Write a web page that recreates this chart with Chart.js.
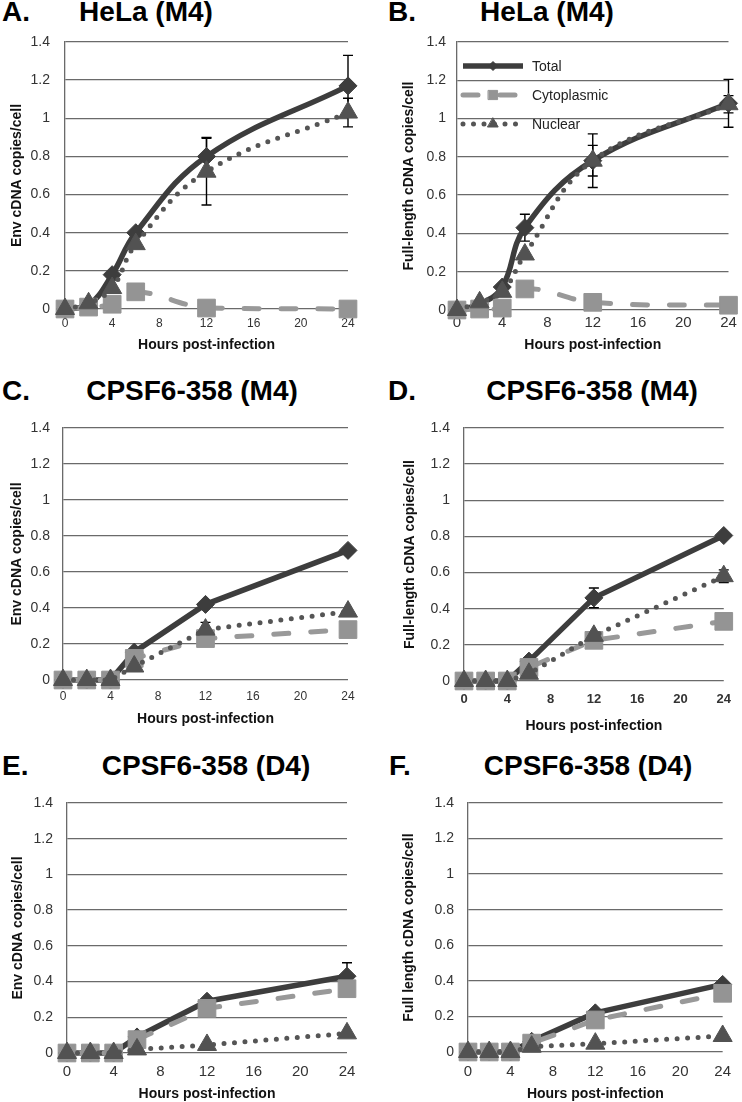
<!DOCTYPE html>
<html><head><meta charset="utf-8">
<script src="https://cdn.jsdelivr.net/npm/chart.js@4.4.0/dist/chart.umd.min.js"></script>
<style>
html,body{margin:0;padding:0;background:#fff;}
#page{position:relative;width:742px;height:1102px;overflow:hidden;background:#fff;font-family:"Liberation Sans",Arial,sans-serif;}
canvas.cv{position:absolute;}
.ttl{position:absolute;font-weight:bold;font-size:28px;line-height:28px;color:#000;white-space:nowrap;}
.ctr{text-align:center;width:320px;}
</style></head><body><div id="page"></div>
<script>
// ---------- data ----------
const hours = [0, 2, 4, 6, 12, 24];
const xTickValues = [0, 4, 8, 12, 16, 20, 24];
const yTickValues = [0, 0.2, 0.4, 0.6, 0.8, 1, 1.2, 1.4];
const seriesNames = ['Total', 'Cytoplasmic', 'Nuclear'];
const panelLetters = ['A.', 'B.', 'C.', 'D.', 'E.', 'F.'];
const panelTitles = ['HeLa (M4)', 'HeLa (M4)', 'CPSF6-358 (M4)', 'CPSF6-358 (M4)', 'CPSF6-358 (D4)', 'CPSF6-358 (D4)'];
const yAxisTitles = ['Env cDNA copies/cell', 'Full-length cDNA copies/cell', 'Env cDNA copies/cell',
                     'Full-length cDNA copies/cell', 'Env cDNA copies/cell', 'Full length cDNA copies/cell'];
const xAxisTitle = 'Hours post-infection';

// Panel A
const totalA = [0, 0.02, 0.18, 0.40, 0.80, 1.17];
const cytoA  = [0, 0.01, 0.025, 0.09, 0.005, 0];
const nucA   = [0, 0.03, 0.11, 0.34, 0.72, 1.03];
const totalErrA = [0, 0, 0, 0, 0.10, 0.16];
const nucErrA   = [0, 0, 0, 0, 0.175, 0.075];
// Panel B
const totalB = [0, 0.03, 0.12, 0.43, 0.78, 1.08];
const cytoB  = [0, 0.005, 0.01, 0.11, 0.04, 0.025];
const nucB   = [0, 0.04, 0.095, 0.29, 0.78, 1.075];
const totalErrB = [0, 0, 0, 0.07, 0.14, 0.125];
const nucErrB   = [0, 0, 0, 0, 0.08, 0.045];
// Panel C
const totalC = [0, 0, 0, 0.155, 0.42, 0.72];
const cytoC  = [0, 0, 0, 0.12, 0.23, 0.28];
const nucC   = [0, 0, 0, 0.075, 0.28, 0.38];
const totalErrC = [0, 0, 0, 0, 0, 0];
const nucErrC   = [0, 0, 0, 0, 0.04, 0];
// Panel D
const totalD = [0, 0, 0, 0.11, 0.46, 0.805];
const cytoD  = [0, 0, 0, 0.075, 0.225, 0.33];
const nucD   = [0, 0, 0, 0.04, 0.25, 0.58];
const totalErrD = [0, 0, 0, 0, 0.055, 0];
const nucErrD   = [0, 0, 0, 0, 0, 0.035];
// Panel E
const totalE = [0, 0, 0, 0.09, 0.29, 0.43];
const cytoE  = [0, 0, 0, 0.075, 0.25, 0.36];
const nucE   = [0, 0, 0, 0.02, 0.045, 0.11];
const totalErrE = [0, 0, 0, 0, 0, 0.075];
const nucErrE   = [0, 0, 0, 0, 0, 0];
// Panel F
const totalF = [0, 0, 0, 0.06, 0.22, 0.38];
const cytoF  = [0, 0, 0, 0.05, 0.18, 0.33];
const nucF   = [0, 0, 0, 0.03, 0.047, 0.09];
const totalErrF = [0, 0, 0, 0, 0, 0];
const nucErrF   = [0, 0, 0, 0, 0, 0];

const panelData = [
  {tot: totalA, cyt: cytoA, nuc: nucA, totErr: totalErrA, nucErr: nucErrA, smooth: true, legend: false},
  {tot: totalB, cyt: cytoB, nuc: nucB, totErr: totalErrB, nucErr: nucErrB, smooth: true, legend: true},
  {tot: totalC, cyt: cytoC, nuc: nucC, totErr: totalErrC, nucErr: nucErrC, smooth: false, legend: false},
  {tot: totalD, cyt: cytoD, nuc: nucD, totErr: totalErrD, nucErr: nucErrD, smooth: false, legend: false},
  {tot: totalE, cyt: cytoE, nuc: nucE, totErr: totalErrE, nucErr: nucErrE, smooth: false, legend: false},
  {tot: totalF, cyt: cytoF, nuc: nucF, totErr: totalErrF, nucErr: nucErrF, smooth: false, legend: false}
];

// ---------- layout ----------
const FONT = '"Liberation Sans", Arial, sans-serif';
const layout = [
  {cx:0,   cy:0,   cw:371, ch:365, L:65,  R:348, T:42,  B:309,  yTickPad:15, yTitlePad:10, xTickSize:12, xTickBold:false, xTickPad:7,  xTitlePad:13, letterX:2,   titleC:146, titleY:12},
  {cx:371, cy:0,   cw:371, ch:365, L:457, R:733, T:42,  B:310,  yTickPad:11, yTitlePad:31, xTickSize:15, xTickBold:false, xTickPad:4,  xTitlePad:13, letterX:388, titleC:547, titleY:12},
  {cx:0,   cy:365, cw:371, ch:375, L:63,  R:348, T:428, B:680,  yTickPad:13, yTitlePad:10, xTickSize:12, xTickBold:false, xTickPad:9,  xTitlePad:14, letterX:2,   titleC:192, titleY:391},
  {cx:371, cy:365, cw:371, ch:375, L:464, R:731, T:428, B:681,  yTickPad:14, yTitlePad:32, xTickSize:13, xTickBold:true,  xTickPad:11, xTitlePad:7,  letterX:388, titleC:592, titleY:391},
  {cx:0,   cy:740, cw:371, ch:362, L:67,  R:347, T:803, B:1053, yTickPad:14, yTitlePad:11, xTickSize:15, xTickBold:false, xTickPad:10, xTitlePad:1,  letterX:2,   titleC:206, titleY:766},
  {cx:371, cy:740, cw:371, ch:362, L:468, R:730, T:803, B:1052, yTickPad:14, yTitlePad:31, xTickSize:15, xTickBold:false, xTickPad:11, xTitlePad:1,  letterX:389, titleC:588, titleY:766}
];

const styles = {
  total: {color: '#3d3d3d', width: 5.5},
  cyto:  {color: '#999999', fill: '#949494', width: 5},
  nuc:   {color: '#555555', fill: '#525252', width: 5},
  grid:  '#6a6a6a',
  tick:  '#333333'
};

const page = document.getElementById('page');

function toPoints(arr) { return hours.map((h, i) => ({x: h, y: arr[i]})); }

function makeDatasets(d) {
  const t = d.smooth ? 0.4 : 0;
  return [
    {label: seriesNames[0], data: toPoints(d.tot), borderColor: styles.total.color, backgroundColor: styles.total.color,
     borderWidth: styles.total.width, borderJoinStyle: 'round', pointStyle: 'rectRot', pointRadius: 9,
     pointBorderWidth: 1, pointBorderColor: styles.total.color, pointBackgroundColor: styles.total.color,
     tension: t, order: 2, clip: false, errors: d.totErr, legendRadius: 4.5},
    {label: seriesNames[1], data: toPoints(d.cyt), borderColor: styles.cyto.color, backgroundColor: styles.cyto.fill,
     borderWidth: styles.cyto.width, borderDash: [15, 22], borderCapStyle: 'round', pointStyle: 'rect', pointRadius: 12.5,
     pointBorderWidth: 1, pointBorderColor: styles.cyto.fill, pointBackgroundColor: styles.cyto.fill,
     tension: t, order: 1, clip: false, errors: null, legendRadius: 6.5},
    {label: seriesNames[2], data: toPoints(d.nuc), borderColor: styles.nuc.color, backgroundColor: styles.nuc.fill,
     borderWidth: styles.nuc.width, borderDash: [0, 10.5], borderCapStyle: 'round', pointStyle: 'triangle', pointRadius: 11,
     pointBorderWidth: 1, pointBorderColor: styles.nuc.fill, pointBackgroundColor: styles.nuc.fill,
     tension: t, order: 0, clip: false, errors: d.nucErr, legendRadius: 6}
  ];
}

const errorBarPlugin = {
  id: 'errBars',
  beforeDatasetsDraw(chart) {
    const ctx = chart.ctx, xs = chart.scales.x, ys = chart.scales.y;
    ctx.save();
    ctx.strokeStyle = '#000';
    ctx.lineWidth = 1.4;
    chart.data.datasets.forEach(ds => {
      if (!ds.errors) return;
      ds.data.forEach((p, j) => {
        const e = ds.errors[j];
        if (!e) return;
        const x = xs.getPixelForValue(p.x);
        const y1 = ys.getPixelForValue(p.y + e);
        const y2 = ys.getPixelForValue(p.y - e);
        ctx.beginPath();
        ctx.moveTo(x, y1); ctx.lineTo(x, y2);
        ctx.moveTo(x - 5, y1); ctx.lineTo(x + 5, y1);
        ctx.moveTo(x - 5, y2); ctx.lineTo(x + 5, y2);
        ctx.stroke();
      });
    });
    ctx.restore();
  }
};

const insideLegendPlugin = {
  id: 'insideLegend',
  afterDatasetsDraw(chart, args, opts) {
    if (!opts || !opts.show) return;
    const ctx = chart.ctx, a = chart.chartArea;
    chart.data.datasets.forEach((ds, k) => {
      const y = a.top + 24 + k * 29;
      const x0 = a.left + 6, x1 = a.left + 66, xm = a.left + 36;
      ctx.save();
      ctx.strokeStyle = ds.borderColor;
      ctx.lineWidth = ds.borderWidth;
      ctx.lineCap = ds.borderCapStyle || 'butt';
      ctx.setLineDash(ds.borderDash || []);
      ctx.beginPath(); ctx.moveTo(x0, y); ctx.lineTo(x1, y); ctx.stroke();
      ctx.setLineDash([]);
      ctx.fillStyle = ds.pointBackgroundColor;
      ctx.strokeStyle = ds.pointBorderColor;
      ctx.lineWidth = 1;
      Chart.helpers.drawPoint(ctx, {pointStyle: ds.pointStyle, radius: ds.legendRadius, borderWidth: 1, rotation: 0}, xm, y);
      ctx.fillStyle = '#222';
      ctx.font = '14px ' + FONT;
      ctx.textAlign = 'left';
      ctx.textBaseline = 'middle';
      ctx.fillText(ds.label, a.left + 75, y + 1);
      ctx.restore();
    });
  }
};

layout.forEach((p, i) => {
  const d = panelData[i];
  // titles (real text)
  const letter = document.createElement('div');
  letter.className = 'ttl';
  letter.style.left = p.letterX + 'px';
  letter.style.top = (p.titleY - 13.7) + 'px';
  letter.textContent = panelLetters[i];
  page.appendChild(letter);
  const title = document.createElement('div');
  title.className = 'ttl ctr';
  title.style.left = (p.titleC - 160) + 'px';
  title.style.top = (p.titleY - 13.7) + 'px';
  title.textContent = panelTitles[i];
  page.appendChild(title);

  const cv = document.createElement('canvas');
  cv.className = 'cv';
  cv.width = p.cw; cv.height = p.ch;
  cv.style.left = p.cx + 'px'; cv.style.top = p.cy + 'px';
  cv.style.width = p.cw + 'px'; cv.style.height = p.ch + 'px';
  page.appendChild(cv);

  new Chart(cv, {
    type: 'line',
    data: {datasets: makeDatasets(d)},
    plugins: [errorBarPlugin, insideLegendPlugin],
    options: {
      responsive: false,
      animation: false,
      devicePixelRatio: 1,
      events: [],
      layout: {padding: {left: 0, top: p.T - p.cy, right: p.cx + p.cw - p.R, bottom: 0}},
      plugins: {
        legend: {display: false},
        tooltip: {enabled: false},
        title: {display: false},
        insideLegend: {show: d.legend}
      },
      scales: {
        x: {
          type: 'linear', min: 0, max: 24,
          afterBuildTicks: s => { s.ticks = xTickValues.map(v => ({value: v})); },
          afterFit: s => { s.height = p.cy + p.ch - p.B; },
          grid: {display: false, drawTicks: false},
          border: {display: false},
          ticks: {
            color: styles.tick, padding: p.xTickPad, maxRotation: 0, autoSkip: false,
            font: {family: FONT, size: p.xTickSize, weight: p.xTickBold ? 'bold' : 'normal'},
            callback: v => String(v)
          },
          title: {display: true, text: xAxisTitle, color: '#111',
                  font: {family: FONT, size: 14, weight: 'bold', lineHeight: 1},
                  padding: {top: 0, bottom: p.xTitlePad}}
        },
        y: {
          type: 'linear', min: 0, max: 1.4,
          afterBuildTicks: s => { s.ticks = yTickValues.map(v => ({value: v})); },
          afterFit: s => { s.width = p.L - p.cx; },
          grid: {color: styles.grid, lineWidth: 1.3, drawTicks: false},
          border: {display: true, color: styles.grid, width: 1.3},
          ticks: {
            color: styles.tick, padding: p.yTickPad, autoSkip: false,
            font: {family: FONT, size: 14},
            callback: v => String(v)
          },
          title: {display: true, text: yAxisTitles[i], color: '#111',
                  font: {family: FONT, size: 14, weight: 'bold', lineHeight: 1},
                  padding: {top: p.yTitlePad, bottom: 0}}
        }
      }
    }
  });
});
</script>
</body></html>
